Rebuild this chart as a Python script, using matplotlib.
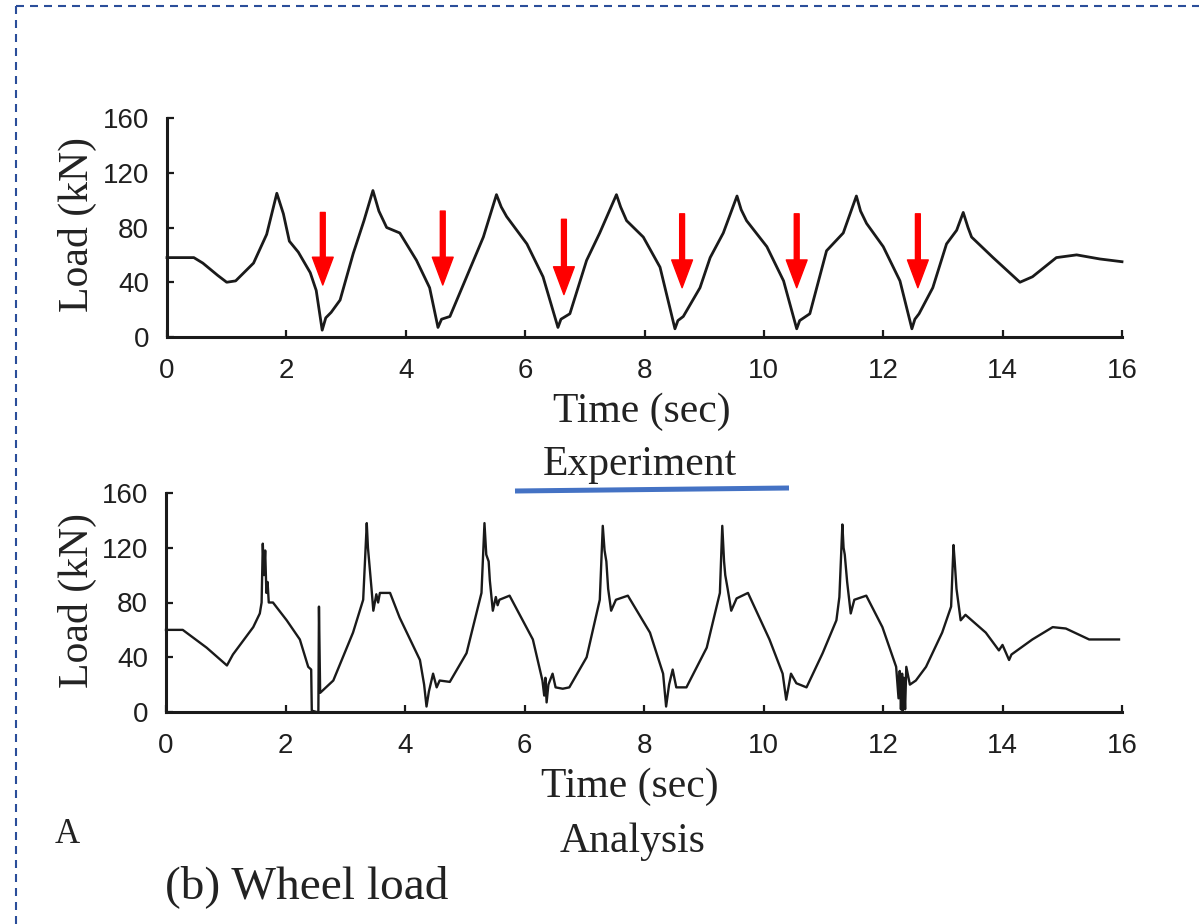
import matplotlib.pyplot as plt
from matplotlib.lines import Line2D

W, H = 1199, 924

# measured experiment wheel load (top)
exp_t = [0.0, 0.45, 0.6, 0.85, 1.0, 1.15, 1.45, 1.67, 1.84, 1.95, 2.05, 2.2, 2.4, 2.5, 2.6, 2.66, 2.75,
         2.9, 3.12, 3.3, 3.45, 3.55, 3.68, 3.9, 4.18, 4.4, 4.54, 4.6, 4.74, 5.02, 5.3, 5.52, 5.6, 5.69,
         6.03, 6.3, 6.55, 6.6, 6.75, 7.03, 7.25, 7.53, 7.6, 7.7, 7.98, 8.26, 8.51, 8.56, 8.65, 8.93,
         9.1, 9.32, 9.55, 9.62, 9.71, 10.05, 10.33, 10.55, 10.6, 10.77, 11.05, 11.33, 11.55, 11.62,
         11.72, 12.0, 12.28, 12.48, 12.53, 12.6, 12.83, 13.06, 13.23, 13.34, 13.42, 13.48, 13.84,
         14.29, 14.5, 14.9, 15.24, 15.63, 16.0]
exp_load = [58, 58, 54, 45, 40, 41, 54, 75, 105, 90, 70, 62, 47, 34, 5, 14, 18,
            27, 61, 85, 107, 92, 80, 76, 56, 36, 7, 13, 15, 44, 73, 104, 95, 88,
            68, 44, 7, 13, 17, 56, 76, 104, 95, 85, 73, 51, 6, 12, 15, 36,
            58, 76, 103, 93, 85, 66, 41, 6, 12, 17, 63, 76, 103, 92,
            83, 66, 41, 6, 13, 17, 36, 68, 78, 91, 80, 73, 58,
            40, 44, 58, 60, 57, 55]

# analysis wheel load (bottom)
ana_t = [0.0, 0.28, 0.68, 1.02, 1.12, 1.46, 1.57, 1.6, 1.62, 1.64, 1.66, 1.68, 1.7, 1.72, 1.79, 2.02,
         2.24, 2.38, 2.43, 2.44, 2.52, 2.55, 2.56, 2.58, 2.8, 3.13, 3.3, 3.36, 3.38, 3.4, 3.44, 3.47,
         3.52, 3.55, 3.58, 3.75, 3.91, 4.25, 4.32, 4.36, 4.4, 4.47, 4.53, 4.58, 4.75, 5.03, 5.28,
         5.33, 5.36, 5.4, 5.42, 5.47, 5.52, 5.55, 5.58, 5.75, 6.14, 6.3, 6.33, 6.35, 6.37, 6.4,
         6.47, 6.52, 6.64, 6.75, 7.04, 7.26, 7.31, 7.34, 7.37, 7.4, 7.45, 7.53, 7.73, 8.1, 8.32,
         8.37, 8.42, 8.48, 8.54, 8.71, 9.05, 9.27, 9.31, 9.34, 9.36, 9.4, 9.46, 9.55, 9.74, 10.1,
         10.32, 10.38, 10.46, 10.55, 10.72, 10.99, 11.22, 11.27, 11.32, 11.34, 11.36, 11.4, 11.46,
         11.52, 11.72, 11.99, 12.22, 12.26, 12.28, 12.3, 12.32, 12.33, 12.35, 12.37, 12.39, 12.45,
         12.55, 12.72, 12.99, 13.14, 13.18, 13.2, 13.23, 13.3, 13.38, 13.72, 13.94, 14.0, 14.11,
         14.15, 14.5, 14.84, 15.06, 15.45, 15.95]
ana_load = [60, 60, 47, 34, 42, 62, 72, 80, 123, 100, 118, 87, 95, 80, 80, 67,
            53, 33, 31, 1, 0, 0, 77, 14, 23, 58, 82, 138, 120, 110, 90, 74,
            86, 80, 87, 87, 69, 38, 20, 4, 15, 28, 18, 23, 22, 43, 87,
            138, 115, 110, 96, 74, 84, 78, 82, 85, 53, 23, 12, 25, 7, 20,
            28, 18, 17, 18, 40, 82, 136, 118, 110, 90, 74, 82, 85, 58, 28,
            4, 20, 31, 18, 18, 47, 87, 136, 110, 100, 90, 74, 83, 87, 53,
            28, 9, 28, 21, 18, 43, 67, 84, 137, 120, 115, 95, 72,
            82, 85, 62, 33, 10, 30, 2, 28, 1, 25, 2, 33, 20,
            23, 33, 58, 77, 122, 110, 90, 67, 71, 58, 45, 49, 38,
            42, 53, 62, 61, 53, 53]

# red arrows marking the load drops
arrow_t = [2.61, 4.62, 6.65, 8.63, 10.55, 12.58]
arrow_top = [91, 92, 86, 90, 90, 90]
arrow_tip = [38, 38, 31, 36, 36, 36]

xticks = [0, 2, 4, 6, 8, 10, 12, 14, 16]
yticks = [0, 40, 80, 120, 160]

serif = 'Liberation Serif'
sans = 'Liberation Sans'

fig = plt.figure(figsize=(W / 100, H / 100), dpi=100)


def px(x, y):
    return x / W, 1 - y / H


def make_axes(left, top, right, bottom):
    ax = fig.add_axes([left / W, 1 - bottom / H, (right - left) / W, (bottom - top) / H])
    ax.set_xlim(0, 16)
    ax.set_ylim(0, 160)
    ax.set_xticks(xticks)
    ax.set_yticks(yticks)
    for s in ['top', 'right']:
        ax.spines[s].set_visible(False)
    for s in ['left', 'bottom']:
        ax.spines[s].set_linewidth(2.2)
        ax.spines[s].set_color('#1a1a1a')
    ax.tick_params(direction='in', length=5, width=1.6, color='#1a1a1a',
                   labelsize=20, labelcolor='#1f1f1f')
    ax.tick_params(axis='x', pad=15)
    ax.tick_params(axis='y', pad=13)
    for lab in ax.get_xticklabels() + ax.get_yticklabels():
        lab.set_family(sans)
    return ax


ax1 = make_axes(167, 118, 1122, 337)
ax1.plot(exp_t, exp_load, color='#1a1a1a', lw=2.0, clip_on=False,
         solid_joinstyle='round')
for t, top, tip in zip(arrow_t, arrow_top, arrow_tip):
    ax1.annotate('', xy=(t, tip), xytext=(t, top),
                 arrowprops=dict(facecolor='red', edgecolor='red', width=3.5,
                                 headwidth=15, headlength=20, shrink=0))

ax2 = make_axes(166, 493, 1122, 712)
ax2.plot(ana_t, ana_load, color='#1a1a1a', lw=1.7, clip_on=False,
         solid_joinstyle='round')

# texts
fig.text(*px(77, 224), 'Load (kN)', rotation=90, ha='center', va='center',
         family=serif, fontsize=30, color='#222')
fig.text(*px(77, 600), 'Load (kN)', rotation=90, ha='center', va='center',
         family=serif, fontsize=30, color='#222')
fig.text(*px(642, 422), 'Time (sec)', ha='center', va='baseline',
         family=serif, fontsize=30, color='#222')
fig.text(*px(630, 797), 'Time (sec)', ha='center', va='baseline',
         family=serif, fontsize=30, color='#222')
fig.text(*px(640, 475), 'Experiment', ha='center', va='baseline',
         family=serif, fontsize=30, color='#222')
fig.text(*px(633, 852), 'Analysis', ha='center', va='baseline',
         family=serif, fontsize=30, color='#222')
fig.text(*px(55, 843), 'A', ha='left', va='baseline',
         family=serif, fontsize=25, color='#222')
fig.text(*px(165, 898), '(b) Wheel load', ha='left', va='baseline',
         family=serif, fontsize=34, color='#222')

# blue underline
x0, y0 = px(515, 491)
x1, y1 = px(789, 488)
fig.add_artist(Line2D([x0, x1], [y0, y1], transform=fig.transFigure,
                      color='#4472C4', lw=3.6, solid_capstyle='butt'))

# dashed frame
bx, by = px(16, 5.5)
frame = dict(transform=fig.transFigure, color='#2B4E9A', lw=1.5,
             linestyle=(0, (3.84, 2.88)))
fig.add_artist(Line2D([bx, bx], [0, by], **frame))
fig.add_artist(Line2D([bx, 1], [by, by], **frame))

fig.savefig('out.png', dpi=100)
